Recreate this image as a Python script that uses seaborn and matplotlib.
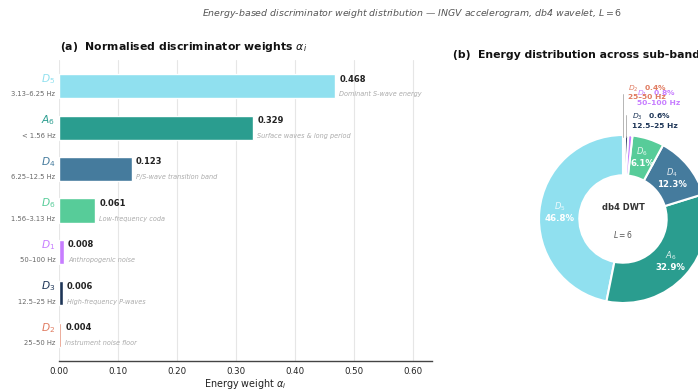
import numpy as np
import pandas as pd
import matplotlib
matplotlib.use("Agg")
import matplotlib.pyplot as plt
import seaborn as sns

# sub-band data (sorted by weight)
bands = ["D5", "A6", "D4", "D6", "D1", "D3", "D2"]
band_tex = [r"$D_5$", r"$A_6$", r"$D_4$", r"$D_6$", r"$D_1$", r"$D_3$", r"$D_2$"]
freq_ranges = ["3.13–6.25 Hz", "< 1.56 Hz", "6.25–12.5 Hz", "1.56–3.13 Hz",
               "50–100 Hz", "12.5–25 Hz", "25–50 Hz"]
weights = [0.468, 0.329, 0.123, 0.061, 0.008, 0.006, 0.004]
notes = ["Dominant S-wave energy", "Surface waves & long period",
         "P/S-wave transition band", "Low-frequency coda",
         "Anthropogenic noise", "High-frequency P-waves", "Instrument noise floor"]
colors = ["#90e0ef", "#2a9d8f", "#457b9d", "#57cc99", "#c77dff", "#1d3557", "#e07a5f"]

df = pd.DataFrame({"band": bands, "weight": weights})

sns.set_theme(style="white")
plt.rcParams["font.family"] = ["DejaVu Sans"]
plt.rcParams["mathtext.fontset"] = "dejavusans"

W, H = 698, 392
fig = plt.figure(figsize=(W / 100, H / 100), dpi=100)

# ---------- (a) bar chart ----------
ax = fig.add_axes([59 / W, 1 - 361 / H, (432 - 59) / W, (361 - 60) / H])
sns.barplot(data=df, x="weight", y="band", hue="band", palette=colors,
            orient="h", width=0.58, saturation=1, legend=False, ax=ax)
ax.set_xlim(0, 0.632)
ax.set_ylim(6.63, -0.63)
ax.set_xticks(np.arange(0, 0.61, 0.1))
ax.set_xticks(np.arange(0.05, 0.61, 0.1), minor=True)
ax.set_xticklabels([f"{v:.2f}" for v in np.arange(0, 0.61, 0.1)], fontsize=6.2, color="#222")
ax.tick_params(axis="x", which="major", direction="out", length=2.5, width=0.8, color="#444", pad=1.5)
ax.tick_params(axis="x", which="minor", direction="out", length=1.5, width=0.6, color="#444")
ax.set_yticks([])
ax.set_ylabel("")
ax.set_xlabel(r"Energy weight $\alpha_i$", fontsize=6.9, color="#222", labelpad=1)
ax.grid(axis="x", color="#e6e6e6", linewidth=0.8)
ax.set_axisbelow(True)
for s in ["top", "right", "left"]:
    ax.spines[s].set_visible(False)
ax.spines["bottom"].set_color("#444")
ax.spines["bottom"].set_linewidth(1.0)

for i in range(len(bands)):
    ax.text(-0.006, i - 0.17, band_tex[i], ha="right", va="center",
            fontsize=7.7, color=colors[i])
    ax.text(-0.006, i + 0.2, freq_ranges[i], ha="right", va="center",
            fontsize=4.9, color="#666")
    ax.text(weights[i] + 0.007, i - 0.17, f"{weights[i]:.3f}", ha="left", va="center",
            fontsize=6, fontweight="bold", color="#222")
    ax.text(weights[i] + 0.007, i + 0.2, notes[i], ha="left", va="center",
            fontsize=4.7, style="italic", color="#aaa")

fig.text(60 / W, 1 - 47 / H, r"(a)  Normalised discriminator weights $\alpha_i$",
         ha="left", va="center", fontsize=7.8, fontweight="bold", color="#111")

# ---------- (b) donut ----------
scale = 84.0
cx, cy = 623, 219
half_w, half_h = 1.3, 1.8
pax = fig.add_axes([(cx - half_w * scale) / W, (H - cy - half_h * scale) / H,
                    2 * half_w * scale / W, 2 * half_h * scale / H])
wedges, _ = pax.pie(weights, colors=colors, startangle=90, counterclock=True,
                    radius=1.0, wedgeprops=dict(width=0.48, edgecolor="white", linewidth=1.5))
pax.set_xlim(-half_w, half_w)
pax.set_ylim(-half_h, half_h)
pax.set_aspect("equal")
pax.axis("off")

total = sum(weights)
pcts = [w / total * 100 for w in weights]
for i, wdg in enumerate(wedges):
    if pcts[i] < 2:
        continue
    ang = np.deg2rad((wdg.theta1 + wdg.theta2) / 2)
    x, y = 0.76 * np.cos(ang), 0.76 * np.sin(ang)
    pax.text(x, y + 0.07, band_tex[i], ha="center", va="center",
             fontsize=6, color="white", alpha=0.85)
    pax.text(x, y - 0.07, f"{pcts[i]:.1f}%", ha="center", va="center",
             fontsize=6.2, fontweight="bold", color="white")

# small slices: labels outside with leader lines
pax.plot([0.005, 0.005], [0.98, 1.49], color="#aaa", linewidth=0.6)
pax.plot([0.035, 0.035], [0.98, 1.24], color="#aaa", linewidth=0.6)
small_pos = {"D2": (0.06, 1.55, 1.45), "D1": (0.167, 1.49, 1.38), "D3": (0.107, 1.21, 1.11)}
for i, b in enumerate(bands):
    if b not in small_pos:
        continue
    x, y1, y2 = small_pos[b]
    pax.text(x, y1, band_tex[i] + r"   $\mathbf{" + f"{pcts[i]:.1f}" + r"\%}$",
             ha="left", va="center", fontsize=5.4, color=colors[i])
    pax.text(x, y2, freq_ranges[i], ha="left", va="center",
             fontsize=5.4, fontweight="bold", color=colors[i])

pax.text(0, 0.14, "db4 DWT", ha="center", va="center", fontsize=6,
         fontweight="bold", color="#333")
pax.text(0, -0.18, r"$L = 6$", ha="center", va="center", fontsize=5.5, color="#555")

fig.text(453 / W, 1 - 55 / H, "(b)  Energy distribution across sub-bands",
         ha="left", va="center", fontsize=7.8, fontweight="bold", color="#111")

fig.text(412 / W, 1 - 13 / H,
         r"Energy-based discriminator weight distribution — INGV accelerogram, db4 wavelet, $L = 6$",
         ha="center", va="center", fontsize=6.75, style="italic", color="#555")

fig.savefig("out.png", dpi=100)
